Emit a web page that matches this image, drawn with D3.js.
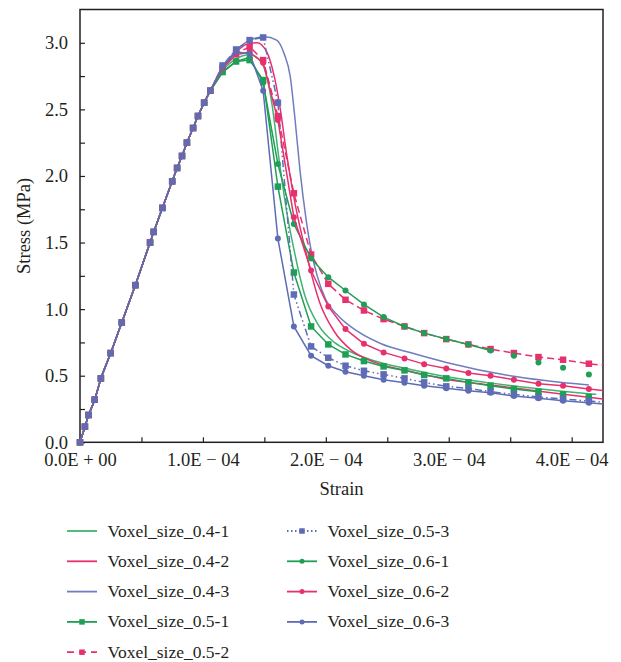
<!DOCTYPE html>
<html>
<head>
<meta charset="utf-8">
<script src="https://cdn.jsdelivr.net/npm/d3@7"></script>
<style>
  body { margin: 0; background: #fff; }
</style>
</head>
<body>
<div id="chart"></div>
<script>
// strain values are in units of 1E-04
const strainTicks = [0, 1, 2, 3, 4];
const stressTicks = [0, 0.5, 1.0, 1.5, 2.0, 2.5, 3.0];

// shared elastic branch (all nine runs overlap here)
const riseStrain = [0, 0.04, 0.07, 0.12, 0.17, 0.25, 0.34, 0.45, 0.57, 0.60, 0.67, 0.75, 0.79, 0.83, 0.87, 0.92, 0.96, 1.01, 1.06];
const riseStress = [0, 0.117, 0.205, 0.32, 0.48, 0.67, 0.90, 1.18, 1.50, 1.58, 1.76, 1.96, 2.06, 2.15, 2.25, 2.36, 2.45, 2.55, 2.64];

// output steps of the marked runs (0.5 and 0.6 voxel sizes)
const stepStrain = [1.16, 1.27, 1.38, 1.49, 1.61, 1.74, 1.88, 2.02, 2.16, 2.31, 2.47, 2.64, 2.80, 2.98, 3.16, 3.34, 3.53, 3.73, 3.93, 4.14, 4.35];
const stress05_1 = [2.78, 2.86, 2.87, 2.72, 1.92, 1.275, 0.87, 0.735, 0.66, 0.61, 0.57, 0.54, 0.505, 0.48, 0.45, 0.425, 0.40, 0.38, 0.36, 0.34];
const stress05_2 = [2.81, 2.92, 2.97, 2.87, 2.45, 1.87, 1.41, 1.19, 1.07, 0.99, 0.925, 0.87, 0.82, 0.775, 0.735, 0.70, 0.67, 0.64, 0.62, 0.59, 0.57];
const stress05_3 = [2.83, 2.95, 3.02, 3.04, 2.55, 1.11, 0.72, 0.635, 0.575, 0.537, 0.51, 0.48, 0.45, 0.42, 0.405, 0.38, 0.36, 0.34, 0.325, 0.31, 0.295];
const stress06_1 = [2.78, 2.86, 2.89, 2.70, 2.09, 1.64, 1.38, 1.24, 1.14, 1.035, 0.94, 0.87, 0.82, 0.775, 0.735, 0.69, 0.65, 0.60, 0.56, 0.51];
const stress06_2 = [2.81, 2.91, 2.93, 2.85, 2.42, 1.69, 1.29, 1.02, 0.85, 0.74, 0.675, 0.63, 0.587, 0.555, 0.52, 0.50, 0.47, 0.44, 0.425, 0.40, 0.38];
const stress06_3 = [2.82, 2.93, 2.92, 2.64, 1.53, 0.87, 0.65, 0.575, 0.53, 0.50, 0.47, 0.447, 0.425, 0.405, 0.387, 0.372, 0.347, 0.33, 0.312, 0.297, 0.28];

// unmarked runs (0.4 voxel size)
const strain04_1 = [1.16, 1.27, 1.38, 1.45, 1.51, 1.56, 1.62, 1.68, 1.74, 1.83, 1.94, 2.07, 2.20, 2.40, 2.70, 3.00, 3.30, 3.60, 3.90, 4.20];
const stress04_1 = [2.79, 2.88, 2.91, 2.88, 2.78, 2.55, 2.12, 1.74, 1.45, 1.10, 0.88, 0.75, 0.68, 0.61, 0.545, 0.49, 0.45, 0.415, 0.385, 0.36];
const strain04_2 = [1.16, 1.27, 1.36, 1.44, 1.52, 1.58, 1.63, 1.68, 1.75, 1.84, 1.95, 2.07, 2.21, 2.40, 2.70, 3.00, 3.30, 3.60, 3.90, 4.30];
const stress04_2 = [2.81, 2.93, 2.99, 3.00, 2.93, 2.75, 2.50, 2.17, 1.79, 1.42, 1.05, 0.83, 0.69, 0.60, 0.53, 0.47, 0.435, 0.40, 0.365, 0.32];
const strain04_3 = [1.16, 1.27, 1.38, 1.50, 1.60, 1.66, 1.71, 1.75, 1.79, 1.84, 1.885, 1.93, 2.00, 2.10, 2.20, 2.45, 2.70, 2.98, 3.50, 4.14];
const stress04_3 = [2.82, 2.94, 3.02, 3.045, 3.02, 2.92, 2.75, 2.42, 2.04, 1.67, 1.42, 1.25, 1.07, 0.95, 0.87, 0.74, 0.67, 0.60, 0.50, 0.43];

const GREEN = '#1f9e55', GREEN_LT = '#3fb46f', PINK = '#e8306e', BLUE = '#5e6cb6', BLUE_LT = '#6f7cc0';
const FONT = '"Liberation Serif", "Times New Roman", serif';
const INK = '#231f20';

const series = [
    {name: 'Voxel_size_0.4-1', xs: strain04_1, ys: stress04_1, color: GREEN_LT, marker: null, dash: null, smooth: true},
    {name: 'Voxel_size_0.4-2', xs: strain04_2, ys: stress04_2, color: PINK, marker: null, dash: null, smooth: true},
    {name: 'Voxel_size_0.4-3', xs: strain04_3, ys: stress04_3, color: BLUE_LT, marker: null, dash: null, smooth: true},
    {name: 'Voxel_size_0.5-1', xs: stepStrain, ys: stress05_1, color: GREEN, marker: 'square', dash: null, lineTo: 3.73},
    {name: 'Voxel_size_0.5-2', xs: stepStrain, ys: stress05_2, color: PINK, marker: 'square', dash: '7,4'},
    {name: 'Voxel_size_0.5-3', xs: stepStrain, ys: stress05_3, color: BLUE, marker: 'square', dash: '1.5,3,1.5,3,7,3'},
    {name: 'Voxel_size_0.6-1', xs: stepStrain, ys: stress06_1, color: GREEN, marker: 'circle', dash: null, lineTo: 3.34},
    {name: 'Voxel_size_0.6-2', xs: stepStrain, ys: stress06_2, color: PINK, marker: 'circle', dash: null},
    {name: 'Voxel_size_0.6-3', xs: stepStrain, ys: stress06_3, color: BLUE, marker: 'circle', dash: null}
];

const width = 621, height = 662;
const mLeft = 80, mRight = 603, mTop = 9.5, mBottom = 442.3;

const x = d3.scaleLinear().domain([0, 4.255]).range([mLeft, mRight]);
const y = d3.scaleLinear().domain([0, 3.25]).range([mBottom, mTop]);

const svg = d3.select('#chart').append('svg')
    .attr('width', width).attr('height', height)
    .attr('font-family', FONT);

svg.append('clipPath').attr('id', 'plotClip')
    .append('rect').attr('x', mLeft - 4).attr('y', mTop).attr('width', mRight - mLeft + 4).attr('height', mBottom - mTop + 4);

const fmtStrain = d => d === 0 ? '0.0E + 00' : d.toFixed(1) + 'E \u2212 04';

// axes, ticks pointing inside
const xAxis = d3.axisBottom(x).tickValues(strainTicks).tickFormat(fmtStrain).tickSize(-5).tickPadding(11);
const xMinor = d3.axisBottom(x).tickValues(d3.range(0.5, 4.25, 1)).tickFormat('').tickSize(-5);
const yAxis = d3.axisLeft(y).tickValues(stressTicks).tickFormat(d3.format('.1f')).tickSize(-5).tickPadding(12);
const yMinor = d3.axisLeft(y).tickValues(d3.range(0.25, 3.25, 0.5)).tickFormat('').tickSize(-5);

const styleAxis = g => {
    g.attr('font-family', FONT).attr('font-size', 18.5);
    g.select('.domain').remove();
    g.selectAll('line').attr('stroke', INK).attr('stroke-width', 1.2);
    g.selectAll('text').attr('fill', INK).attr('font-family', FONT).attr('font-size', 18.5);
};

svg.append('g').attr('transform', `translate(0,${mBottom})`).call(xAxis).call(styleAxis);
svg.append('g').attr('transform', `translate(0,${mBottom})`).call(xMinor).call(styleAxis);
svg.append('g').attr('transform', `translate(${mLeft},0)`).call(yAxis).call(styleAxis);
svg.append('g').attr('transform', `translate(${mLeft},0)`).call(yMinor).call(styleAxis);

// frame
svg.append('rect')
    .attr('x', mLeft).attr('y', mTop).attr('width', mRight - mLeft).attr('height', mBottom - mTop)
    .attr('fill', 'none').attr('stroke', INK).attr('stroke-width', 1.5);

svg.append('text')
    .attr('transform', `translate(30,${(mTop + mBottom) / 2}) rotate(-90)`)
    .attr('text-anchor', 'middle').attr('font-size', 18.5).attr('fill', INK)
    .text('Stress (MPa)');
svg.append('text')
    .attr('x', (mLeft + mRight) / 2).attr('y', 495)
    .attr('text-anchor', 'middle').attr('font-size', 18.5).attr('fill', INK)
    .text('Strain');

const plot = svg.append('g').attr('clip-path', 'url(#plotClip)');

const points = s => riseStrain.map((v, i) => [v, riseStress[i]])
    .concat(s.ys.map((v, i) => [s.xs[i], v]));

const drawMarker = (sel, s, size) => {
    if (s.marker === 'square') {
        sel.append('rect').attr('x', -size / 2).attr('y', -size / 2)
            .attr('width', size).attr('height', size).attr('fill', s.color);
    } else if (s.marker === 'circle') {
        sel.append('circle').attr('r', size / 2).attr('fill', s.color);
    }
};

series.forEach(s => {
    const pts = points(s);
    const linePts = s.lineTo ? pts.filter(p => p[0] <= s.lineTo + 1e-9) : pts;
    const line = d3.line()
        .x(d => x(d[0])).y(d => y(d[1]))
        .curve(s.smooth ? d3.curveMonotoneX : d3.curveLinear);
    plot.append('path')
        .datum(linePts)
        .attr('d', line)
        .attr('fill', 'none')
        .attr('stroke', s.color)
        .attr('stroke-width', 1.5)
        .attr('stroke-dasharray', s.dash);

    if (s.marker) {
        plot.append('g').selectAll('g')
            .data(pts)
            .join('g')
            .attr('transform', d => `translate(${x(d[0])},${y(d[1])})`)
            .each(function () { drawMarker(d3.select(this), s, s.marker === 'square' ? 6.5 : 6); });
    }
});

// legend, two columns
const legend = svg.append('g');
series.forEach((s, i) => {
    const col = i < 5 ? 0 : 1;
    const row = i < 5 ? i : i - 5;
    const lx = col === 0 ? 67 : 287;
    const ly = 531 + row * 30.3;
    const g = legend.append('g').attr('transform', `translate(${lx},${ly})`);
    g.append('line').attr('x1', 0).attr('x2', 30).attr('y1', 0).attr('y2', 0)
        .attr('stroke', s.color).attr('stroke-width', 1.8)
        .attr('stroke-dasharray', s.dash ? (s.dash === '7,4' ? '7,5' : '1.5,2.5') : null);
    if (s.marker) {
        const m = g.append('g').attr('transform', 'translate(15,0)');
        drawMarker(m, s, s.marker === 'square' ? 5.5 : 5);
    }
    g.append('text').attr('x', 40.5).attr('y', 5.5)
        .attr('font-size', 17.5).attr('fill', INK)
        .text(s.name);
});
</script>
</body>
</html>
